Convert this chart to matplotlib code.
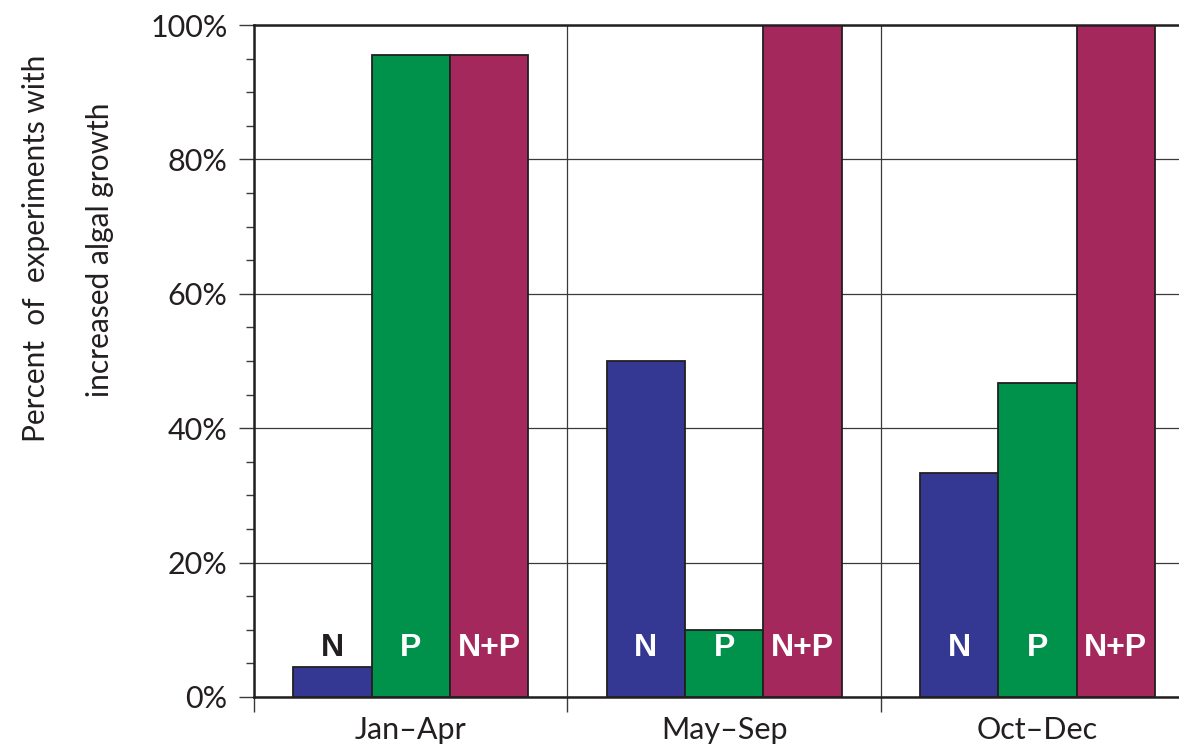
import matplotlib
matplotlib.use("Agg")
import matplotlib.pyplot as plt
import numpy as np
from matplotlib.ticker import MultipleLocator, FixedLocator, FuncFormatter

# Nutrient-addition experiments by season
seasons = ["Jan\u2013Apr", "May\u2013Sep", "Oct\u2013Dec"]
treatments = ["N", "P", "N+P"]
pct_N = [4.5, 50.0, 33.3]
pct_P = [95.5, 10.0, 46.7]
pct_NP = [95.5, 100.0, 100.0]
colors = ["#343893", "#00924B", "#A5285D"]

W, H = 1179, 752
fig = plt.figure(figsize=(W / 100, H / 100), dpi=100)
ax = fig.add_axes([254 / W, (752 - 697) / H, (W - 254) / W, (697 - 25) / H])

x = np.arange(len(seasons))
bw = 0.25
series = [pct_N, pct_P, pct_NP]
edge = "#231F20"
label_y = 7.3
for i, (vals, col, lab) in enumerate(zip(series, colors, treatments)):
    xs = x + (i - 1) * bw
    ax.bar(xs, vals, width=bw, color=col, edgecolor=edge, linewidth=1.3, zorder=3)
    for xi, v in zip(xs, vals):
        tc = "white" if v > label_y else "#231F20"
        ax.text(xi, label_y, lab, ha="center", va="center", color=tc,
                fontsize=23, fontweight="bold", family="Liberation Sans", zorder=4)

ax.set_xlim(-0.5, (W - 411) / 313.3)
ax.set_ylim(0, 100)

# Group separators as major x ticks/gridlines, season names as minor ticks
ax.xaxis.set_major_locator(FixedLocator([-0.5, 0.5, 1.5]))
ax.xaxis.set_major_formatter(FuncFormatter(lambda v, p: ""))
ax.xaxis.set_minor_locator(FixedLocator(list(x)))
ax.set_xticklabels(seasons, minor=True)
ax.tick_params(axis="x", which="major", length=11, width=1.0, color="#3a3a3a", direction="out")
ax.tick_params(axis="x", which="minor", length=0, pad=14, labelsize=22, labelcolor="#231F20")

ax.yaxis.set_major_locator(MultipleLocator(20))
ax.yaxis.set_minor_locator(MultipleLocator(5))
ax.yaxis.set_major_formatter(FuncFormatter(lambda v, p: f"{int(round(v))}%"))
ax.tick_params(axis="y", which="major", length=11, width=1.0, color="#3a3a3a", pad=8,
               labelsize=22, labelcolor="#231F20")
ax.tick_params(axis="y", which="minor", length=6, width=1.0, color="#3a3a3a")

for lbl in ax.get_xticklabels(minor=True) + ax.get_yticklabels():
    lbl.set_family("Lato")

ax.grid(True, which="major", axis="both", color="#3a3a3a", linewidth=0.9, zorder=0)
ax.set_axisbelow(True)

for s in ["left", "bottom", "top"]:
    ax.spines[s].set_color("#231F20")
    ax.spines[s].set_linewidth(1.8)
ax.spines["right"].set_visible(False)
ax.spines["top"].set_zorder(5)

fig.text(36 / W, 1 - 248 / H, "Percent  of  experiments with", rotation=90,
         ha="center", va="center", fontsize=21.5, family="Lato", color="#231F20")
fig.text(100 / W, 1 - 250 / H, "increased algal growth", rotation=90,
         ha="center", va="center", fontsize=21.5, family="Lato", color="#231F20")

fig.savefig("out.png", dpi=100)
